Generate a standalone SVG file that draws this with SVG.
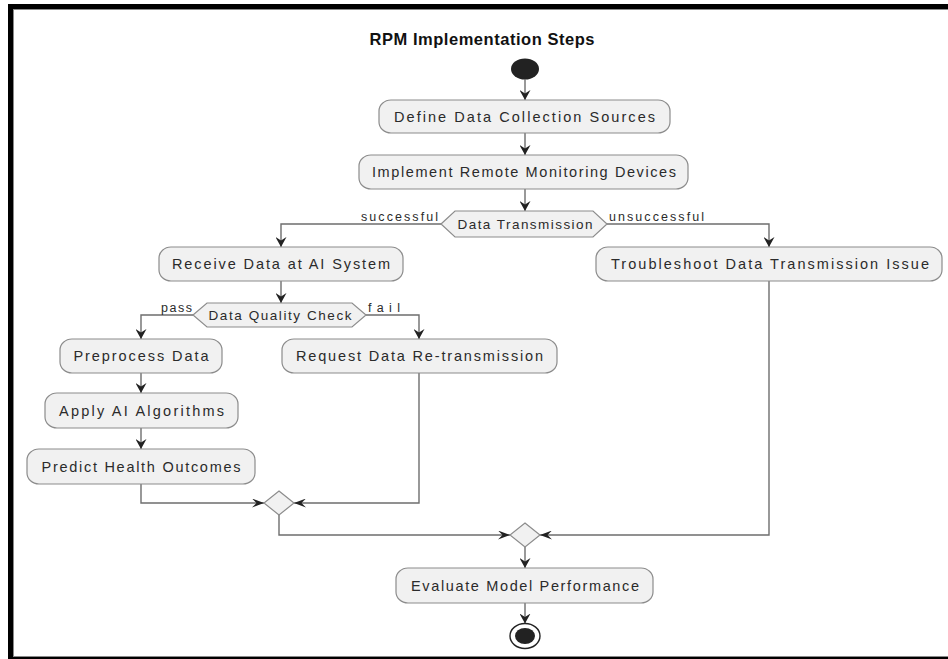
<svg xmlns="http://www.w3.org/2000/svg" width="948" height="659" viewBox="0 0 948 659">
<style>
.bg{fill:#ffffff}
.frame{fill:none;stroke:#000;stroke-width:5}
.frame2{fill:none;stroke:#8a8a8a;stroke-width:1}
.box{fill:#f1f1f1;stroke:#8c8c8c;stroke-width:1.2}
.dec{fill:#f1f1f1;stroke:#8c8c8c;stroke-width:1.2}
.t{font-family:"Liberation Sans",Arial,sans-serif;font-size:14.5px;fill:#2b2b2b;text-anchor:middle}
.h{font-family:"Liberation Sans",Arial,sans-serif;font-size:13.5px;fill:#2b2b2b;text-anchor:middle}
.el{font-family:"Liberation Sans",Arial,sans-serif;font-size:12.5px;fill:#2b2b2b}
.title{font-family:"Liberation Sans",Arial,sans-serif;font-size:16.5px;font-weight:bold;fill:#111;text-anchor:middle}
.e{fill:none;stroke:#6e6e6e;stroke-width:1.4}
.v{marker-end:url(#av)}
.hz{marker-end:url(#ah)}
</style>
<defs>
<marker id="av" markerWidth="11" markerHeight="11" refX="10" refY="5.5" orient="auto" markerUnits="userSpaceOnUse"><path d="M0,0 L10,5.5 L0,11 L3.5,5.5 z" fill="#222"/></marker>
<marker id="ah" markerWidth="13" markerHeight="9" refX="12" refY="4.5" orient="auto" markerUnits="userSpaceOnUse"><path d="M0,0 L12,4.5 L0,9 L4.5,4.5 z" fill="#222"/></marker>
</defs>
<rect class="bg" x="0" y="0" width="948" height="659"/>
<rect class="frame" x="10.5" y="6.5" width="960" height="653"/>
<rect class="frame2" x="13.5" y="9.5" width="960" height="647"/>

<text class="title" x="482" y="45" textLength="225">RPM Implementation Steps</text>

<g id="connectors">
<path class="e v" d="M525,79.5 V100"/>
<path class="e v" d="M525,133 V155"/>
<path class="e v" d="M525,189 V211"/>
<path class="e v" d="M441,224 H281 V247"/>
<path class="e v" d="M607,224 H769 V247"/>
<path class="e v" d="M281,281 V303"/>
<path class="e v" d="M193,315 H141 V339"/>
<path class="e v" d="M366,315 H419 V339"/>
<path class="e v" d="M141,373 V393"/>
<path class="e v" d="M141,428 V449"/>
<path class="e hz" d="M141,484 V503 H264"/>
<path class="e hz" d="M419,373 V503 H294"/>
<path class="e hz" d="M279,515 V535 H510"/>
<path class="e hz" d="M769,281 V535 H540"/>
<path class="e v" d="M525,547 V568"/>
<path class="e v" d="M525,603 V623.5"/>
<text class="el" x="438" y="221" text-anchor="end" textLength="77">successful</text>
<text class="el" x="609" y="221" textLength="95">unsuccessful</text>
<text class="el" x="192" y="312" text-anchor="end" textLength="31">pass</text>
<text class="el" x="368" y="312" textLength="32">fail</text>
</g>

<g id="start"><ellipse cx="525" cy="69" rx="14" ry="10.5" fill="#222"/></g>

<g id="n1"><rect class="box" x="379" y="100" width="291" height="33" rx="12" ry="11"/><text class="t" x="524.5" y="121.5" textLength="261">Define Data Collection Sources</text></g>
<g id="n2"><rect class="box" x="359" y="155" width="329" height="34" rx="12" ry="11"/><text class="t" x="524" y="177" textLength="304">Implement Remote Monitoring Devices</text></g>
<g id="d1"><polygon class="dec" points="441,224 455,211 593,211 607,224 593,237 455,237"/><text class="h" x="525" y="228.5" textLength="135">Data Transmission</text></g>
<g id="n3"><rect class="box" x="159" y="247" width="244" height="34" rx="12" ry="11"/><text class="t" x="281" y="269" textLength="218">Receive Data at AI System</text></g>
<g id="n4"><rect class="box" x="596" y="247" width="346" height="34" rx="12" ry="11"/><text class="t" x="770" y="269" textLength="318">Troubleshoot Data Transmission Issue</text></g>
<g id="d2"><polygon class="dec" points="193,315 207,303 352,303 366,315 352,327 207,327"/><text class="h" x="280" y="319.5" textLength="143">Data Quality Check</text></g>
<g id="n5"><rect class="box" x="60" y="339" width="162" height="34" rx="12" ry="11"/><text class="t" x="141" y="361" textLength="135">Preprocess Data</text></g>
<g id="n6"><rect class="box" x="282" y="339" width="275" height="34" rx="12" ry="11"/><text class="t" x="419.5" y="361" textLength="247">Request Data Re-transmission</text></g>
<g id="n7"><rect class="box" x="45" y="393" width="193" height="35" rx="12" ry="11"/><text class="t" x="141.5" y="415.5" textLength="165">Apply AI Algorithms</text></g>
<g id="n8"><rect class="box" x="27" y="449" width="228" height="35" rx="12" ry="11"/><text class="t" x="141" y="471.5" textLength="199">Predict Health Outcomes</text></g>
<g id="m1"><polygon class="dec" points="279,491 294,503 279,515 264,503"/></g>
<g id="m2"><polygon class="dec" points="525,523 540,535 525,547 510,535"/></g>
<g id="n9"><rect class="box" x="396" y="568" width="257" height="35" rx="12" ry="11"/><text class="t" x="525" y="590.5" textLength="228">Evaluate Model Performance</text></g>
<g id="end"><ellipse cx="525" cy="636" rx="15" ry="12.5" fill="#fff" stroke="#222" stroke-width="1.4"/><ellipse cx="525" cy="636" rx="10" ry="8" fill="#222"/></g>
</svg>
